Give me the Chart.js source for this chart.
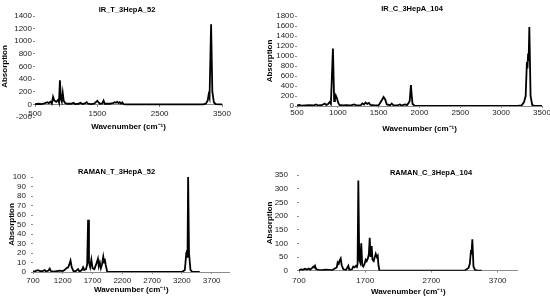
<!DOCTYPE html>
<html>
<head>
<meta charset="utf-8">
<script src="https://cdn.jsdelivr.net/npm/chart.js@4.4.1/dist/chart.umd.min.js"></script>
<style>
  html, body { margin: 0; padding: 0; background: #fff; overflow: hidden; width: 550px; height: 299px; }
  canvas { position: absolute; }
</style>
</head>
<body>
<canvas id="irT" width="254" height="150" style="left:0px;top:0px"></canvas>
<canvas id="irC" width="300" height="150" style="left:262px;top:0px"></canvas>
<canvas id="ramT" width="233" height="149" style="left:0px;top:150px"></canvas>
<canvas id="ramC" width="338" height="149" style="left:262px;top:150px"></canvas>
<script>
// IR_T_3HepA_52
const irTWave = [500, 560, 600, 650, 700, 720, 750, 770, 790, 810, 840, 870, 885, 900, 915, 930, 945, 960, 985, 1020, 1080, 1120, 1140, 1200, 1230, 1260, 1300, 1330, 1350, 1400, 1450, 1500, 1520, 1540, 1580, 1600, 1620, 1700, 1750, 1780, 1800, 1820, 1840, 1860, 1880, 1900, 1920, 1960, 3200, 3240, 3270, 3285, 3300, 3325, 3345, 3370, 3400, 3500];
const irTAbs  = [5, 10, 5, 15, 35, 20, 40, 10, 120, 60, 40, 70, 30, 380, 80, 40, 180, 60, 20, 10, 10, 25, 5, 10, 25, 5, 15, 35, 10, 5, 10, 55, 30, 10, 15, 60, 10, 10, 20, 35, 25, 40, 20, 35, 10, 30, 5, 0, 0, 10, 60, 150, 100, 1270, 200, 30, 5, 0];
const irTXTicks = [500, 1500, 2500, 3500];
const irTYTicks = [-200, 0, 200, 400, 600, 800, 1000, 1200, 1400];

// IR_C_3HepA_104
const irCWave = [500, 530, 560, 600, 650, 700, 730, 760, 800, 840, 860, 880, 900, 915, 940, 955, 965, 975, 990, 1005, 1020, 1060, 1100, 1150, 1200, 1230, 1280, 1300, 1320, 1340, 1360, 1380, 1400, 1450, 1500, 1540, 1560, 1580, 1600, 1640, 1660, 1680, 1720, 1760, 1780, 1820, 1850, 1870, 1880, 1895, 1905, 1915, 1940, 2000, 3200, 3250, 3280, 3300, 3315, 3322, 3330, 3336, 3345, 3360, 3380, 3420, 3500];
const irCAbs  = [10, 20, 5, 10, 15, 10, 30, 10, 15, 50, 20, 40, 80, 40, 1150, 100, 140, 210, 150, 60, 20, 10, 15, 10, 30, 10, 15, 50, 30, 70, 40, 60, 20, 10, 15, 120, 180, 130, 30, 15, 50, 15, 10, 30, 10, 30, 20, 70, 100, 420, 200, 40, 5, 0, 0, 10, 80, 200, 880, 750, 1050, 900, 1580, 200, 20, 0, 0];
const irCXTicks = [500, 1000, 1500, 2000, 2500, 3000, 3500];
const irCYTicks = [0, 200, 400, 600, 800, 1000, 1200, 1400, 1600, 1800];

// RAMAN_T_3HepA_52
const ramTWave = [700, 740, 780, 820, 860, 897, 920, 960, 981, 1000, 1050, 1100, 1150, 1200, 1230, 1260, 1290, 1310, 1330, 1350, 1380, 1420, 1457, 1480, 1520, 1541, 1560, 1590, 1610, 1625, 1640, 1660, 1680, 1700, 1730, 1760, 1790, 1805, 1822, 1840, 1860, 1880, 1895, 1905, 1920, 1945, 1980, 3200, 3250, 3275, 3285, 3295, 3305, 3320, 3345, 3380, 3500];
const ramTAbs  = [0.5, 1, 2, 1, 1, 2, 0.5, 1.5, 3.5, 1, 0.5, 1, 1.5, 1, 2, 4, 5, 8, 12, 5, 1, 1, 3, 0.5, 2, 5, 2, 3, 8, 55, 10, 5, 13, 4, 3, 8, 14, 6, 10, 4, 8, 16, 10, 14, 8, 0.5, 0, 0, 2, 20, 23, 15, 100, 20, 2, 0, 0];
const ramTXTicks = [700, 1200, 1700, 2200, 2700, 3200, 3700];
const ramTYTicks = [0, 10, 20, 30, 40, 50, 60, 70, 80, 90, 100];

// RAMAN_C_3HepA_104
const ramCWave = [700, 730, 760, 790, 820, 850, 870, 900, 916, 930, 942, 960, 1000, 1050, 1100, 1150, 1200, 1240, 1270, 1284, 1300, 1315, 1330, 1345, 1370, 1410, 1445, 1460, 1500, 1520, 1540, 1560, 1575, 1585, 1596, 1610, 1625, 1640, 1655, 1671, 1690, 1707, 1722, 1740, 1755, 1768, 1780, 1797, 1810, 1828, 1845, 1859, 1875, 1889, 1900, 1915, 3200, 3260, 3280, 3298, 3305, 3318, 3335, 3360, 3400, 3460];
const ramCAbs  = [2, 5, 3, 7, 4, 8, 4, 10, 15, 12, 18, 5, 3, 2, 4, 3, 2, 8, 12, 30, 25, 38, 45, 20, 5, 3, 18, 3, 5, 15, 12, 18, 14, 25, 330, 40, 30, 100, 20, 15, 25, 40, 35, 45, 60, 120, 50, 90, 40, 35, 50, 62, 50, 55, 20, 0, 0, 10, 25, 75, 60, 115, 15, 2, 0, 0];
const ramCXTicks = [700, 1700, 2700, 3700];
const ramCYTicks = [0, 50, 100, 150, 200, 250, 300, 350];

Chart.defaults.font.family = '"Liberation Sans", Arial, sans-serif';

function spectrum(id, o) {
  const pts = o.wave.map((w, i) => ({ x: w, y: o.abs[i] }));
  return new Chart(document.getElementById(id), {
    type: 'line',
    data: {
      datasets: [{ data: pts, borderColor: '#000', borderWidth: 1.8, pointRadius: 0, tension: 0, fill: false }]
    },
    options: {
      responsive: false,
      animation: false,
      events: [],
      layout: { padding: { left: 0, right: 0, top: 0, bottom: o.padBottom } },
      plugins: {
        legend: { display: false },
        tooltip: { enabled: false },
        title: {
          display: true, text: o.title, color: '#000',
          font: { size: 7.5, weight: 'bold' },
          padding: o.titlePad
        }
      },
      scales: {
        x: {
          type: 'linear', min: o.xMin, max: o.xMax, position: o.xPos,
          afterBuildTicks: s => { s.ticks = o.xTicks.map(v => ({ value: v })); },
          afterFit: s => { s.height = o.xH; },
          ticks: { autoSkip: false, maxRotation: 0, padding: o.xTickPad, color: '#222', font: { size: 8 }, callback: v => String(v) },
          grid: { display: true, drawOnChartArea: false, tickLength: 2, color: '#8c8c8c' },
          border: { display: true, color: '#8c8c8c' },
          title: { display: true, text: 'Wavenumber (cm⁻¹)', color: '#000', font: { size: 8, weight: 'bold' }, padding: { top: 0, bottom: o.xTitlePad } }
        },
        y: {
          min: o.yTicks[0], max: o.yTicks[o.yTicks.length - 1],
          afterBuildTicks: s => { s.ticks = o.yTicks.map(v => ({ value: v })); },
          afterFit: s => { s.width = o.yW; },
          ticks: { autoSkip: false, padding: o.yTickPad, color: '#222', font: { size: 8 }, callback: v => String(v) },
          grid: { display: true, drawOnChartArea: false, tickLength: 2, color: '#8c8c8c' },
          border: { display: false },
          title: { display: true, text: 'Absorption', color: '#000', font: { size: 8, weight: 'bold' }, padding: { top: o.yTitlePad, bottom: 0 } }
        },
        // empty right-hand margin so the chart title centres like the original
        gap: {
          type: 'linear', position: 'right', axis: 'y',
          afterFit: s => { s.width = o.rightGap; },
          ticks: { display: false }, grid: { display: false }, border: { display: false }
        }
      }
    }
  });
}

spectrum('irT', {
  title: 'IR_T_3HepA_52', wave: irTWave, abs: irTAbs, xTicks: irTXTicks, yTicks: irTYTicks,
  xMin: 500, xMax: 3500, xPos: { y: 0 }, rightGap: 32, padBottom: 33,
  titlePad: { top: 5.5, bottom: 1.5 },
  yW: 35, yTickPad: 1, yTitlePad: 0.2, xH: 30, xTickPad: 2.2, xTitlePad: 2.5
});

spectrum('irC', {
  title: 'IR_C_3HepA_104', wave: irCWave, abs: irCAbs, xTicks: irCXTicks, yTicks: irCYTicks,
  xMin: 500, xMax: 3500, xPos: 'bottom', rightGap: 20, padBottom: 0,
  titlePad: { top: 4.8, bottom: 2.2 },
  yW: 35, yTickPad: 1, yTitlePad: 3.2, xH: 44, xTickPad: 0, xTitlePad: 16.2
});

spectrum('ramT', {
  title: 'RAMAN_T_3HepA_52', wave: ramTWave, abs: ramTAbs, xTicks: ramTXTicks, yTicks: ramTYTicks,
  xMin: 700, xMax: 4000, xPos: 'bottom', rightGap: 3.5, padBottom: 0,
  titlePad: { top: 17.2, bottom: 0.8 },
  yW: 33, yTickPad: 5, yTitlePad: 6.9, xH: 27, xTickPad: 2.2, xTitlePad: 4.5
});

spectrum('ramC', {
  title: 'RAMAN_C_3HepA_104', wave: ramCWave, abs: ramCAbs, xTicks: ramCXTicks, yTicks: ramCYTicks,
  xMin: 700, xMax: 4000, xPos: 'bottom', rightGap: 82.5, padBottom: 0,
  titlePad: { top: 18.5, bottom: -2.5 },
  yW: 37, yTickPad: 9, yTitlePad: 3.2, xH: 28.3, xTickPad: 3.5, xTitlePad: 2.8
});
</script>
</body>
</html>
